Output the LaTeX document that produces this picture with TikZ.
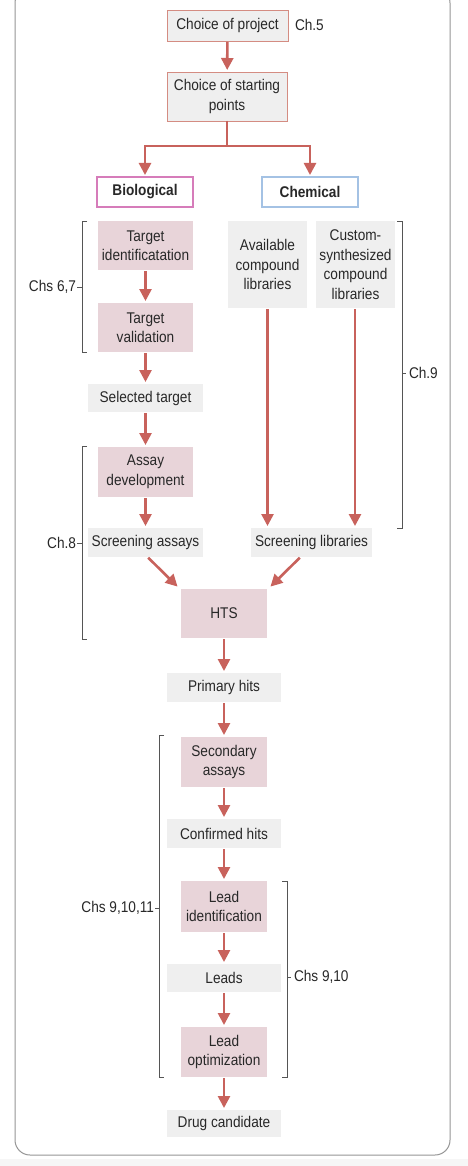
\documentclass[tikz,border=0pt]{standalone}
\usepackage{fontspec}
\setmainfont[FakeStretch=0.88]{Liberation Sans}
\usetikzlibrary{arrows.meta,positioning}
\definecolor{arr}{RGB}{200,98,92}
\definecolor{pinkfill}{RGB}{232,212,217}
\definecolor{greyfill}{RGB}{239,239,239}
\definecolor{redborder}{RGB}{212,140,130}
\definecolor{bioborder}{RGB}{214,124,186}
\definecolor{chemborder}{RGB}{164,194,228}
\definecolor{brk}{RGB}{85,85,85}
\definecolor{txt}{RGB}{40,40,40}
\definecolor{framec}{RGB}{150,150,150}
\tikzset{
  base/.style={inner sep=0pt, outer sep=0pt, align=center, text=txt,
    font=\fontsize{15.5}{19.5}\selectfont},
  topbox/.style={base, fill=greyfill, draw=redborder, line width=0.9pt},
  pinkbox/.style={base, fill=pinkfill},
  greybox/.style={base, fill=greyfill},
  biobox/.style={base, fill=white, draw=bioborder, line width=1.1pt, font=\fontsize{15.5}{19}\selectfont\bfseries},
  chembox/.style={base, fill=white, draw=chemborder, line width=1.1pt, font=\fontsize{15.5}{19}\selectfont\bfseries},
  flow/.style={draw=arr, line width=2.6pt, -{Triangle[width=12pt,length=12pt]}, shorten >=2pt, shorten <=1pt},
  brack/.style={draw=brk, line width=0.8pt},
  lab/.style={base}
}
\begin{document}
\begin{tikzpicture}[x=1pt,y=-1pt]
\useasboundingbox (0,0) rectangle (468,1166);
\fill[white] (0,0) rectangle (468,1166);
\fill[gray!7] (0,1159) rectangle (468,1166);
\draw[framec, line width=1pt, rounded corners=15pt] (15,-12) rectangle (450,1155);

% nodes
\node[topbox, minimum width=121pt, minimum height=31pt] (proj) at (227.5,25.5) {Choice of project};
\node[lab, anchor=west] (ch5) at (295,25) {Ch.5};
\node[topbox, minimum width=120pt, minimum height=49pt] (start) at (227,96.5) {Choice of starting\\points};
\node[biobox, minimum width=96pt, minimum height=30pt] (bio) at (145,192) {Biological};
\node[chembox, minimum width=96pt, minimum height=30pt] (chem) at (310,192) {Chemical};
\node[pinkbox, minimum width=95pt, minimum height=49pt] (tid) at (145.5,245.5) {Target\\identificatation};
\node[pinkbox, minimum width=95pt, minimum height=49pt] (tval) at (145.5,327.5) {Target\\validation};
\node[greybox, minimum width=115pt, minimum height=28pt] (sel) at (145.5,398) {Selected target};
\node[greybox, minimum width=79pt, minimum height=87pt] (avail) at (267.5,264.5) {Available\\compound\\libraries};
\node[greybox, minimum width=79pt, minimum height=87pt] (custom) at (355.5,264.5) {Custom-\\synthesized\\compound\\libraries};
\node[pinkbox, minimum width=95pt, minimum height=50pt] (assay) at (145.5,472) {Assay\\development};
\node[greybox, minimum width=115pt, minimum height=29pt] (sassay) at (145.5,542.5) {Screening assays};
\node[greybox, minimum width=121pt, minimum height=29pt] (slib) at (311.5,542.5) {Screening libraries};
\node[pinkbox, minimum width=86pt, minimum height=49pt] (hts) at (224,613.5) {HTS};
\node[greybox, minimum width=114pt, minimum height=29pt] (prim) at (224,687.5) {Primary hits};
\node[pinkbox, minimum width=86pt, minimum height=50pt] (sec) at (224,762) {Secondary\\assays};
\node[greybox, minimum width=114pt, minimum height=29pt] (conf) at (224,833.5) {Confirmed hits};
\node[pinkbox, minimum width=86pt, minimum height=51pt] (leadid) at (224,906.5) {Lead\\identification};
\node[greybox, minimum width=114pt, minimum height=28pt] (leads) at (224,978) {Leads};
\node[pinkbox, minimum width=86pt, minimum height=50pt] (leadopt) at (224,1052) {Lead\\optimization};
\node[greybox, minimum width=114pt, minimum height=27pt] (drug) at (224,1123.5) {Drug candidate};

% connectors
\draw[flow] (proj) -- (start);
\draw[flow, shorten <=0pt] (start.south) -- ++(0,25) -| (bio.north);
\draw[flow, shorten <=0pt] (start.south) -- ++(0,25) -| (chem.north);
\draw[flow] (tid) -- (tval);
\draw[flow] (tval) -- (sel);
\draw[flow] (sel) -- (assay);
\draw[flow] (assay) -- (sassay);
\draw[flow] (avail.south) -- (avail.south |- slib.north);
\draw[flow] ([xshift=-0.5pt]custom.south) -- ([xshift=-0.5pt]custom.south |- slib.north);
\draw[flow] ([xshift=2pt]sassay.south) -- ([xshift=-2pt,yshift=1pt]hts.north west);
\draw[flow] ([xshift=-11pt]slib.south) -- ([xshift=2pt,yshift=1pt]hts.north east);
\draw[flow] (hts) -- (prim);
\draw[flow] (prim) -- (sec);
\draw[flow] (sec) -- (conf);
\draw[flow] (conf) -- (leadid);
\draw[flow] (leadid) -- (leads);
\draw[flow] (leads) -- (leadopt);
\draw[flow] (leadopt) -- (drug);

% brackets
\node[lab, anchor=east] (l67) at (76,287) {Chs 6,7};
\draw[brack] (87,221) -- (82,221) -- (82,352) -- (87,352);
\draw[brack] (l67.east) ++(1,0) -- (82,287);

\node[lab, anchor=east] (l8) at (76,543) {Ch.8};
\draw[brack] (87,446) -- (82,446) -- (82,639) -- (87,639);
\draw[brack] (l8.east) ++(1,0) -- (82,543);

\node[lab, anchor=west] (l9) at (409,373) {Ch.9};
\draw[brack] (397,221) -- (402,221) -- (402,528) -- (397,528);
\draw[brack] (402,373) -- (406,373);

\node[lab, anchor=east] (l91011) at (154,908) {Chs 9,10,11};
\draw[brack] (164,735) -- (159,735) -- (159,1077) -- (164,1077);
\draw[brack] (155,908) -- (159,908);

\node[lab, anchor=west] (l910) at (294,977) {Chs 9,10};
\draw[brack] (282,881) -- (287,881) -- (287,1077) -- (282,1077);
\draw[brack] (287,977) -- (291,977);
\end{tikzpicture}
\end{document}
